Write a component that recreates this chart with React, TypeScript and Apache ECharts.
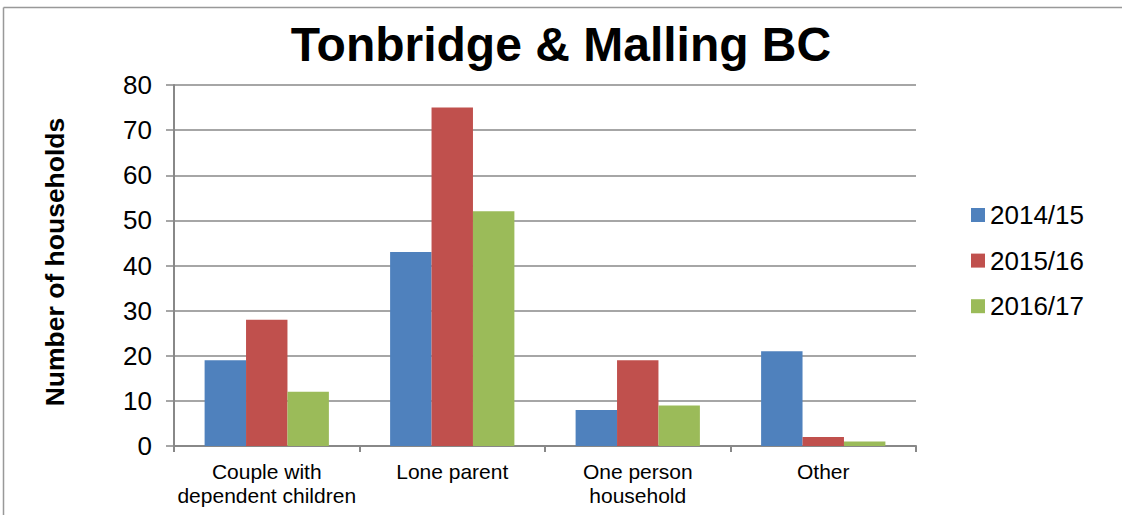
import React, { useEffect, useRef } from "react";
import * as echarts from "echarts";

const titleText = "Tonbridge & Malling BC";
const yAxisName = "Number of households";
const categories = ["Couple with\ndependent children", "Lone parent", "One person\nhousehold", "Other"];
const seriesNames = ["2014/15", "2015/16", "2016/17"];
const values2014 = [19, 43, 8, 21];
const values2015 = [28, 75, 19, 2];
const values2016 = [12, 52, 9, 1];
const colors = ["#4F81BD", "#C0504D", "#9BBB59"];
const yMin = 0;
const yMax = 80;
const yInterval = 10;

const FONT = "'Liberation Sans', Arial, sans-serif";

export default function App() {
  const ref = useRef<HTMLDivElement>(null);
  useEffect(() => {
    document.body.style.margin = "0";
    const chart = echarts.init(ref.current!, null, { renderer: "svg" });
    const dataSets = [values2014, values2015, values2016];
    chart.setOption({
      animation: false,
      backgroundColor: "#ffffff",
      textStyle: { fontFamily: FONT },
      title: {
        text: titleText,
        left: "center",
        top: 15,
        textStyle: {
          fontFamily: FONT,
          fontSize: 48,
          lineHeight: 48,
          fontWeight: "bold",
          color: "#000",
        },
      },
      legend: {
        orient: "vertical",
        left: 971,
        top: 200,
        padding: 0,
        itemWidth: 14,
        itemHeight: 14,
        itemGap: 15.6,
        icon: "rect",
        textStyle: {
          fontFamily: FONT,
          fontSize: 26,
          lineHeight: 30,
          color: "#000",
        },
        data: seriesNames,
      },
      grid: { left: 174, right: 206, top: 85, bottom: 69, containLabel: false },
      xAxis: {
        type: "category",
        data: categories,
        axisLine: { lineStyle: { color: "#888", width: 2 } },
        axisTick: { show: true, length: 6, lineStyle: { color: "#888", width: 2 } },
        axisLabel: {
          fontFamily: FONT,
          fontSize: 21,
          lineHeight: 24,
          color: "#000",
          margin: 13,
          interval: 0,
        },
      },
      yAxis: {
        type: "value",
        min: yMin,
        max: yMax,
        interval: yInterval,
        axisLine: { show: true, lineStyle: { color: "#888", width: 2 } },
        axisTick: { show: true, length: 8, lineStyle: { color: "#888", width: 1.5 } },
        splitLine: { show: true, lineStyle: { color: "#888", width: 1.5 } },
        axisLabel: {
          fontFamily: FONT,
          fontSize: 26,
          color: "#000",
          margin: 22,
        },
      },
      series: seriesNames.map((name, i) => ({
        name,
        type: "bar",
        data: dataSets[i],
        barGap: "0%",
        barCategoryGap: "33%",
        itemStyle: { color: colors[i] },
      })),
      graphic: [
        {
          type: "line",
          shape: { x1: 3.5, y1: 7.5, x2: 1122, y2: 7.5 },
          style: { stroke: "#999", lineWidth: 1.5 },
          silent: true,
        },
        {
          type: "line",
          shape: { x1: 3.5, y1: 7.5, x2: 3.5, y2: 515 },
          style: { stroke: "#999", lineWidth: 1.5 },
          silent: true,
        },
        {
          type: "text",
          x: 55,
          y: 262,
          rotation: Math.PI / 2,
          style: {
            text: yAxisName,
            fontFamily: FONT,
            fontSize: 26.5,
            fontWeight: "bold",
            fill: "#000",
            align: "center",
            verticalAlign: "middle",
          },
          silent: true,
        },
      ],
    });
    return () => chart.dispose();
  }, []);
  return <div ref={ref} style={{ width: 1122, height: 515 }} />;
}
